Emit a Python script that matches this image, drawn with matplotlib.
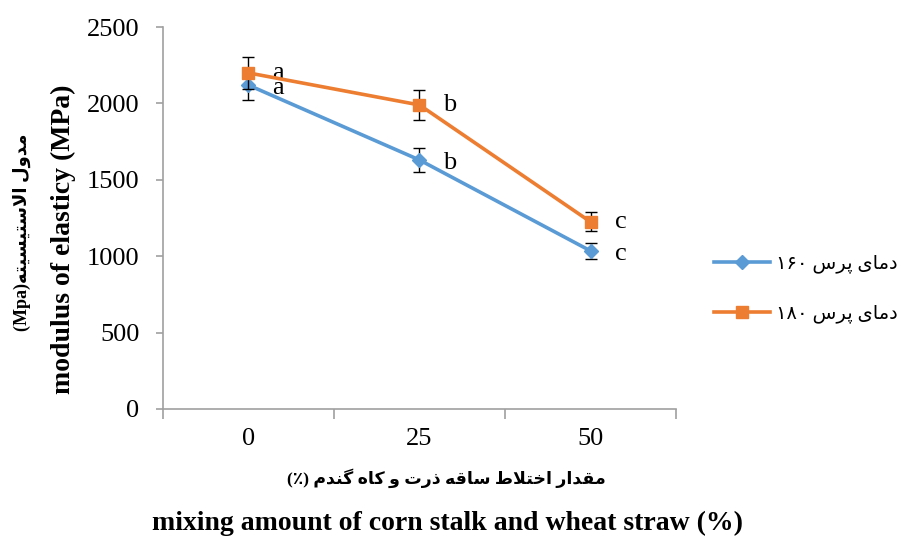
import matplotlib
matplotlib.use('Agg')
import matplotlib.pyplot as plt
from matplotlib.lines import Line2D

mix = ['0', '25', '50']
modulus_160 = [2120, 1630, 1035]
err_160 = [100, 80, 52]
modulus_180 = [2200, 1990, 1225]
err_180 = [105, 100, 62]
letters_160 = ['a', 'b', 'c']
letters_180 = ['a', 'b', 'c']

# isolated, final, initial, medial presentation forms
FORMS = {
    'ا': ('\uFE8D', '\uFE8E', None, None),
    'ب': ('\uFE8F', '\uFE90', '\uFE91', '\uFE92'),
    'پ': ('\uFB56', '\uFB57', '\uFB58', '\uFB59'),
    'ت': ('\uFE95', '\uFE96', '\uFE97', '\uFE98'),
    'خ': ('\uFEA5', '\uFEA6', '\uFEA7', '\uFEA8'),
    'د': ('\uFEA9', '\uFEAA', None, None),
    'ذ': ('\uFEAB', '\uFEAC', None, None),
    'ر': ('\uFEAD', '\uFEAE', None, None),
    'س': ('\uFEB1', '\uFEB2', '\uFEB3', '\uFEB4'),
    'ط': ('\uFEC1', '\uFEC2', '\uFEC3', '\uFEC4'),
    'ق': ('\uFED5', '\uFED6', '\uFED7', '\uFED8'),
    'ک': ('\uFB8E', '\uFB8F', '\uFB90', '\uFB91'),
    'گ': ('\uFB92', '\uFB93', '\uFB94', '\uFB95'),
    'ل': ('\uFEDD', '\uFEDE', '\uFEDF', '\uFEE0'),
    'م': ('\uFEE1', '\uFEE2', '\uFEE3', '\uFEE4'),
    'ن': ('\uFEE5', '\uFEE6', '\uFEE7', '\uFEE8'),
    'ه': ('\uFEE9', '\uFEEA', '\uFEEB', '\uFEEC'),
    'و': ('\uFEED', '\uFEEE', None, None),
    'ی': ('\uFBFC', '\uFBFD', '\uFBFE', '\uFBFF'),
    'لا': ('\uFEFB', '\uFEFC', None, None),
}


def shape(text):
    # join letters and return them in visual (left to right) order
    items = []
    i = 0
    while i < len(text):
        if text[i] == 'ل' and i + 1 < len(text) and text[i + 1] == 'ا':
            items.append('لا')
            i += 2
        else:
            items.append(text[i])
            i += 1
    out = []
    for k, c in enumerate(items):
        if c not in FORMS:
            out.append(c)
            continue
        prev = items[k - 1] if k > 0 else None
        nxt = items[k + 1] if k + 1 < len(items) else None
        f = FORMS[c]
        jp = prev in FORMS and FORMS[prev][2] is not None
        jn = f[2] is not None and nxt in FORMS
        if jp and jn:
            out.append(f[3])
        elif jp:
            out.append(f[1])
        elif jn:
            out.append(f[2])
        else:
            out.append(f[0])
    return ''.join(reversed(out))


serif = ['Liberation Serif', 'DejaVu Sans']
plt.rcParams['font.family'] = serif

fig = plt.figure(figsize=(9.05, 5.41), dpi=100)
ax = fig.add_axes([0.180, 0.244, 0.567, 0.706])

x = list(range(len(mix)))
blue = '#5B9BD5'
orange = '#ED7D31'

ax.errorbar(x, modulus_160, yerr=err_160, color=blue, lw=2.6, marker='D',
            ms=7.5, ecolor='black', elinewidth=1, capsize=4, capthick=1,
            zorder=3)
ax.errorbar(x, modulus_180, yerr=err_180, color=orange, lw=2.6, marker='s',
            ms=9, ecolor='black', elinewidth=1, capsize=4, capthick=1,
            zorder=4)

for xi, v, t in zip(x, modulus_160, letters_160):
    ax.annotate(t, (xi, v), xytext=(30, -3), textcoords='offset pixels',
                ha='center', va='center', fontsize=19)
for xi, v, t in zip(x, modulus_180, letters_180):
    ax.annotate(t, (xi, v), xytext=(30, 0), textcoords='offset pixels',
                ha='center', va='center', fontsize=19)

ax.set_xlim(-0.5, 2.5)
ax.set_ylim(0, 2500)
ax.set_yticks(range(0, 2501, 500))
ax.set_xticks(x)
ax.set_xticklabels(mix)
ax.set_xticks([-0.5, 0.5, 1.5, 2.5], minor=True)
ax.tick_params(axis='x', which='major', length=0, labelsize=19, pad=14)
ax.tick_params(axis='x', which='minor', length=7, color='#A0A0A0', width=1.2)
ax.tick_params(axis='y', length=5, color='#A0A0A0', width=1.2, labelsize=19, pad=12)
for s in ['top', 'right']:
    ax.spines[s].set_visible(False)
for s in ['left', 'bottom']:
    ax.spines[s].set_color('#A0A0A0')
    ax.spines[s].set_linewidth(1.2)

fig.text(0.493, 1 - 478 / 541, '(٪) ' + shape('مقدار اختلاط ساقه ذرت و کاه گندم'),
         ha='center', va='center', fontsize=12.5, fontweight='bold', family=serif)
fig.text(0.494, 1 - 523 / 541, 'mixing amount of corn stalk and wheat straw (%)',
         ha='center', va='center', fontsize=20, fontweight='bold')
fig.text(22 / 905, 1 - 232 / 541, '(Mpa)' + shape('مدول الاستیسیته'),
         rotation=90, ha='center', va='center', fontsize=13, fontweight='bold',
         family=serif)
fig.text(63 / 905, 1 - 239 / 541, 'modulus of elasticy (MPa)',
         rotation=90, ha='center', va='center', fontsize=20, fontweight='bold')

handles = [
    Line2D([], [], color=blue, lw=2.6, marker='D', ms=7.5),
    Line2D([], [], color=orange, lw=2.6, marker='s', ms=9),
]
labels = ['۱۶۰ ' + shape('دمای پرس'), '۱۸۰ ' + shape('دمای پرس')]
fig.legend(handles, labels, loc='center left',
           bbox_to_anchor=(714 / 905, 1 - 289 / 541),
           frameon=False, fontsize=14, handlelength=2.9, handletextpad=0.3,
           labelspacing=1.6, borderpad=0, borderaxespad=0)

fig.savefig('out.png', dpi=100)
